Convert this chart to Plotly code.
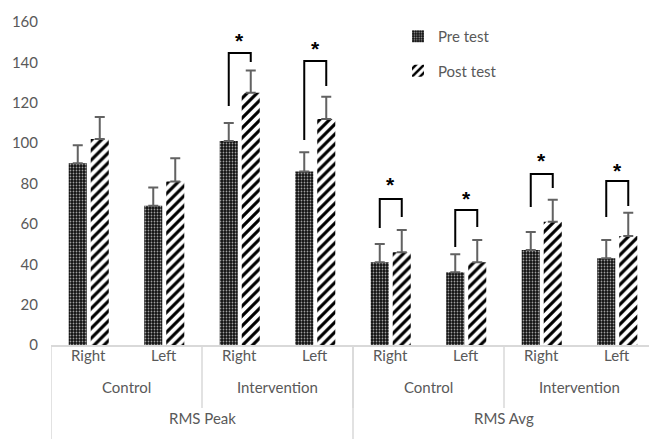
import plotly.graph_objects as go

# ---- data ----
sides = ["Right", "Left", "Right", "Left", "Right", "Left", "Right", "Left"]
groups = ["Control", "Intervention", "Control", "Intervention"]
measures = ["RMS Peak", "RMS Avg"]

pre_vals = [90, 69, 101, 86, 41, 36, 47, 43]
pre_err = [9, 9, 9, 9.5, 9, 9, 9, 9]
post_vals = [102, 81, 125, 112, 46, 41, 61, 54]
post_err = [11, 11.5, 11, 11, 11, 11, 11, 11.5]

# significance brackets: category index, bracket top, left foot, right foot, star height
sig_idx = [2, 3, 4, 5, 6, 7]
sig_top = [144.6, 140.7, 72.3, 66.9, 84.7, 81.2]
sig_left = [118.4, 101.5, 58.0, 48.5, 68.3, 63.4]
sig_right = [140.2, 128.3, 63.4, 58.4, 77.8, 68.8]
sig_star = [151, 147, 79.5, 72.5, 91.5, 86.5]

W, H = 649, 439
ml, mt, mb = 51, 22, 94
plot_w = W - ml
plot_h = H - mt - mb
cat_px = 151 / 2.0  # pixels per category
x_hi = -0.5 + plot_w / cat_px

GRAY = "#595959"
FONT = "Lato, 'Open Sans', sans-serif"
FS = 15

xs = list(range(len(sides)))
fig = go.Figure()
fig.add_trace(go.Bar(
    x=xs, y=pre_vals, name="Pre test", legendgroup="pre",
    marker=dict(color="black", line=dict(width=0),
                pattern=dict(shape=".", fgcolor="white", bgcolor="#111111",
                             fgopacity=0.6, size=3, solidity=0.28,
                             fillmode="overlay")),
    error_y=dict(type="data", symmetric=False, array=pre_err,
                 arrayminus=[0] * len(pre_err), color="#626262",
                 thickness=2, width=5),
))
fig.add_trace(go.Bar(
    x=xs, y=post_vals, name="Post test", legendgroup="post",
    marker=dict(color="white", line=dict(width=0),
                pattern=dict(shape="/", fgcolor="black", bgcolor="white",
                             fgopacity=1, size=7, solidity=0.45,
                             fillmode="overlay")),
    error_y=dict(type="data", symmetric=False, array=post_err,
                 arrayminus=[0] * len(post_err), color="#626262",
                 thickness=2, width=5),
))

# bar offset (center of each bar relative to category center), in category units
off = 11 / cat_px
shapes = []
annotations = []
for i, top, lb, rb, st in zip(sig_idx, sig_top, sig_left, sig_right, sig_star):
    xl, xr = i - off, i + off
    shapes.append(dict(type="path", xref="x", yref="y",
                       path=f"M {xl},{lb} L {xl},{top} L {xr},{top} L {xr},{rb}",
                       line=dict(color="black", width=2)))
    annotations.append(dict(x=i, y=st, xref="x", yref="y", text="<b>*</b>",
                            showarrow=False, font=dict(size=21, color="black",
                                                       family="Liberation Sans")))

# multi-level category axis labels
def py(px):
    return -(px - (mt + plot_h)) / plot_h

for i, s in enumerate(sides):
    annotations.append(dict(x=i, y=py(366), xref="x", yref="paper", text=s,
                            showarrow=False, font=dict(size=FS, color=GRAY, family=FONT)))
for j, g in enumerate(groups):
    annotations.append(dict(x=2 * j + 0.5, y=py(398), xref="x", yref="paper", text=g,
                            showarrow=False, font=dict(size=FS, color=GRAY, family=FONT)))
for k, m in enumerate(measures):
    annotations.append(dict(x=4 * k + 1.5, y=py(429), xref="x", yref="paper", text=m,
                            showarrow=False, font=dict(size=FS, color=GRAY, family=FONT)))

DIV = "#d9d9d9"
for k in range(len(measures) + 1):
    xv = 4 * k - 0.5
    shapes.append(dict(type="line", xref="x", yref="paper", x0=xv, x1=xv,
                       y0=0, y1=py(H + 2), line=dict(color=DIV, width=1.5)))
for j in range(len(groups)):
    xv = 2 * j + 1.5
    shapes.append(dict(type="line", xref="x", yref="paper", x0=xv, x1=xv,
                       y0=0, y1=py(408), line=dict(color=DIV, width=1.5)))

fig.update_layout(
    width=W, height=H,
    margin=dict(l=ml, r=0, t=mt, b=mb, autoexpand=False),
    paper_bgcolor="white", plot_bgcolor="white",
    barmode="group", bargap=0.417, bargroupgap=0.18,
    showlegend=True,
    legend=dict(x=(398 - ml) / plot_w, y=py(20), xanchor="left", yanchor="top",
                font=dict(size=FS, color=GRAY, family=FONT),
                bgcolor="rgba(0,0,0,0)", tracegroupgap=12, itemwidth=30),
    xaxis=dict(range=[-0.5, x_hi], showticklabels=False, showgrid=False,
               zeroline=False, showline=True, linecolor=DIV, linewidth=1.5,
               ticks=""),
    yaxis=dict(range=[0, 160], dtick=20, showgrid=False, zeroline=False,
               showline=False, tickfont=dict(size=FS, color=GRAY, family=FONT),
               ticklabelstandoff=12),
    shapes=shapes, annotations=annotations,
)

fig.write_html("out.html")
